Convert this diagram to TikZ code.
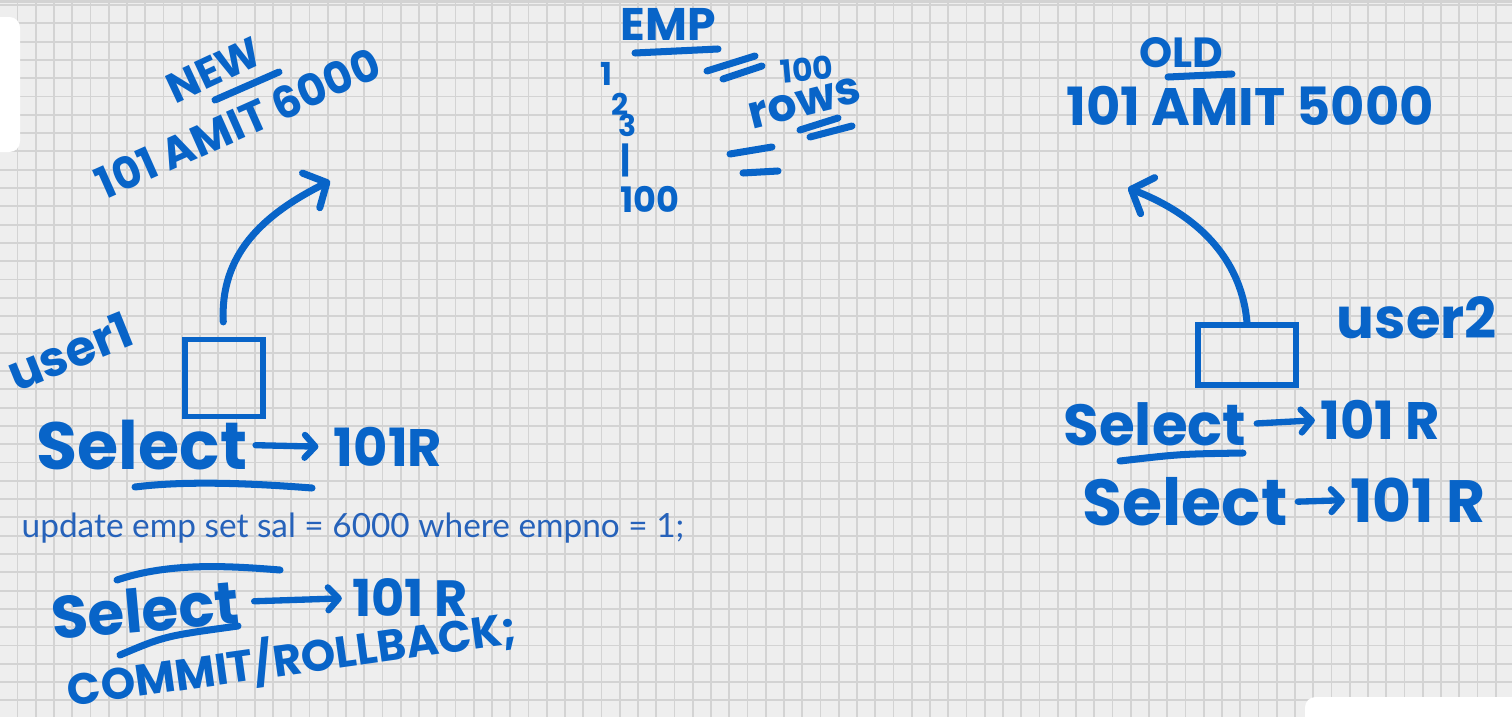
\documentclass[tikz,border=0pt]{standalone}
\usepackage{fontspec}
\newfontfamily\hand{Poppins}
\newfontfamily\typed{Lato}
\usetikzlibrary{arrows.meta}
\definecolor{ink}{RGB}{8,100,200}
\definecolor{typedink}{RGB}{38,98,186}
\definecolor{paper}{RGB}{238,238,238}
\definecolor{gridc}{RGB}{211,211,211}
\begin{document}
\begin{tikzpicture}[x=0.02cm,y=-0.02cm,
  pen/.style={draw=ink, line width=4pt, line cap=round, line join=round},
  hw/.style={text=ink, inner sep=0pt, font=\hand\bfseries\fontsize{#1}{#1}\selectfont},
  hw/.default=30pt,
  boxnode/.style={draw=ink, line width=3pt, inner sep=0pt},
  arr/.style={pen, -{Straight Barb[length=10pt,width=22pt,round]}},
  sarr/.style={pen, line width=3.6pt, -{Straight Barb[length=6pt,width=13pt,round]}},
  panel/.style={fill=white, draw=none, rounded corners=6pt}
]
\useasboundingbox (0,0) rectangle (1512,717);
% paper and grid
\fill[paper] (0,0) rectangle (1512,717);
\foreach \i in {0,...,82} \draw[gridc, line width=1.1pt] ({17.5+18.25*\i},0) -- ({17.5+18.25*\i},717);
\foreach \j in {0,...,39} \draw[gridc, line width=1.1pt] (0,{5+18.3*\j}) -- (1512,{5+18.3*\j});
\fill[gridc] (0,0) rectangle (1512,3);
% ui panels
\fill[panel] (-20,17) rectangle (20,152);
\fill[panel] (1305,697) rectangle (1530,740);

% ---------- left: NEW ----------
\node[hw=24pt, rotate=25] (new) at (214,70) {NEW};
\draw[pen] (215,100) -- (279,72);
\node[hw=25pt, rotate=24] (newrow) at (238,123) {101 AMIT 6000};
\coordinate (newtip) at (330,181);

% user1
\node[hw=28pt, rotate=22] (user1) at (70,352) {user1};
\node[boxnode, minimum width=1.56cm, minimum height=1.54cm] (box1) at (224,378) {};
\draw[arr, shorten <=0.3cm] (box1.north) .. controls (220,255) and (262,215) .. (newtip);

% select row 1
\node[hw=38pt] (sel1) at (142,445) {Select};
\node[hw=30pt] (r1) at (388,447) {101R};
\draw[sarr, shorten <=0.16cm, shorten >=0.3cm] (sel1.east) -- (r1.west);
\draw[pen] (135,487) .. controls (190,480) and (260,484) .. (312,488);

% typed line
\node[text=typedink, inner sep=0pt, font=\typed\fontsize{19}{19}\selectfont] (upd) at (353,528) {update emp set sal = 6000 where empno = 1;};

% select row 2
\draw[pen] (117,580) .. controls (170,562) and (230,566) .. (280,570);
\node[hw=34pt, rotate=5] (sel2) at (145,610) {Select};
\node[hw=29pt] (r2) at (410,598) {101 R};
\draw[sarr, shorten <=0.3cm, shorten >=0.2cm] (sel2.east) -- (r2.west);
\draw[pen] (120,655) .. controls (165,636) .. (238,626);
\node[hw=25pt, rotate=8] (commit) at (292,658) {COMMIT/ROLLBACK;};

% ---------- middle: EMP ----------
\node[hw=26pt] (emp) at (668,24) {EMP};
\draw[pen] (635,53) -- (718,49);
\draw[pen] (707,71) -- (755,56);
\draw[pen] (723,79) -- (762,66);
\node[hw=18pt, rotate=5] (hundred) at (807,69) {100};
\node[hw=26pt, rotate=14] (rows) at (805,103) {rows};
\draw[pen] (800,130) -- (838,118);
\draw[pen] (810,137) -- (852,126);
\draw[pen] (730,154) -- (772,147);
\draw[pen] (743,173) -- (778,171);
\node[hw=18pt] (c1) at (606,74) {1};
\node[hw=17pt] (c2) at (620,104) {2};
\node[hw=17pt] (c3) at (628,125) {3};
\node[hw=20pt] (c4) at (626,160) {|};
\node[hw=20pt] (c5) at (650,199) {100};

% ---------- right: OLD ----------
\node[hw=24pt] (old) at (1181,53) {OLD};
\draw[pen] (1168,77) -- (1232,74);
\node[hw=30pt] (oldrow) at (1250,106) {101 AMIT 5000};
\coordinate (oldtip) at (1128,188);

\node[boxnode, minimum width=1.96cm, minimum height=1.2cm] (box2) at (1247,355) {};
\draw[arr] (box2.north) .. controls (1242,265) and (1205,218) .. (oldtip);
\node[hw=32pt] (user2) at (1417,318) {user2};

\node[hw=33pt] (sel3) at (1155,424) {Select};
\node[hw=30pt] (r3) at (1380,420) {101 R};
\draw[sarr, shorten <=0.2cm, shorten >=0.1cm] (sel3.east) -- (r3.west);
\draw[pen] (1120,461) .. controls (1180,454) .. (1243,453);

\node[hw=37pt] (sel4) at (1185,502) {Select};
\node[hw=34pt] (r4) at (1418,500) {101 R};
\draw[sarr, shorten <=0.2cm, shorten >=0.1cm] (sel4.east) -- (r4.west);
\end{tikzpicture}
\end{document}
